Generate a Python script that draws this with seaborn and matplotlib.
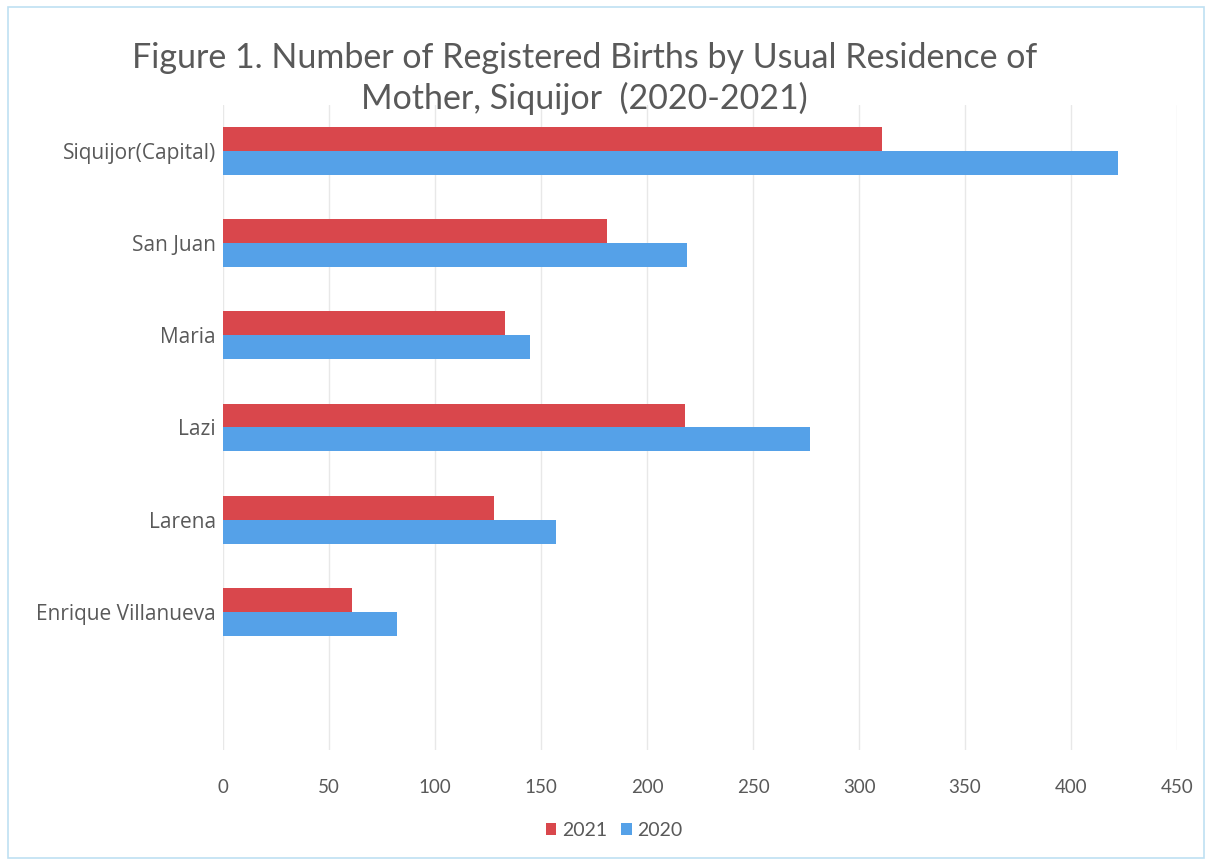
import pandas as pd
import matplotlib.pyplot as plt
import seaborn as sns
from matplotlib.patches import Rectangle

# values
municipalities = ['Siquijor(Capital)', 'San Juan', 'Maria', 'Lazi', 'Larena', 'Enrique Villanueva']
births_2021 = [311, 181, 133, 218, 128, 61]
births_2020 = [422, 219, 145, 277, 157, 82]
years = ['2021', '2020']
x_ticks = [0, 50, 100, 150, 200, 250, 300, 350, 400, 450]

df = pd.DataFrame({
    'Municipality': municipalities * 2,
    'Births': births_2021 + births_2020,
    'Year': ['2021'] * len(municipalities) + ['2020'] * len(municipalities),
})

sns.set_theme(style='white')
plt.rcParams['font.family'] = ['Lato', 'DejaVu Sans']
text_grey = '#595959'

fig = plt.figure(figsize=(12.08, 8.64), dpi=100)
ax = fig.add_axes([0.1846, 0.132, 0.7898, 0.7465])

sns.barplot(data=df, x='Births', y='Municipality', hue='Year', hue_order=years,
            order=municipalities, orient='h', width=0.52,
            palette={'2021': '#D9474C', '2020': '#55A1E8'},
            saturation=1, linewidth=0, ax=ax, legend=True)

# Excel leaves an empty slot under the last category
ax.set_ylim(6.5, -0.5)
ax.set_xlim(0, 450)
ax.set_xticks(x_ticks)
ax.set_xlabel('')
ax.set_ylabel('')
ax.grid(axis='x', color='#E8E8E8', linewidth=1)
ax.set_axisbelow(True)
for s in ax.spines.values():
    s.set_visible(False)
ax.tick_params(axis='x', length=0, pad=21, labelsize=13.5, labelcolor=text_grey)
ax.tick_params(axis='y', length=0, pad=5, labelsize=15, labelcolor=text_grey)
for lab in ax.get_yticklabels():
    lab.set_family(['Open Sans', 'DejaVu Sans'])

leg = ax.legend(loc='center', bbox_to_anchor=(0.41, -0.125), ncol=2, frameon=False,
                fontsize=14, handlelength=0.55, handleheight=0.6, handletextpad=0.3,
                columnspacing=0.7)
for t in leg.get_texts():
    t.set_color(text_grey)

fig.text(0.484, 0.909, 'Figure 1. Number of Registered Births by Usual Residence of\nMother, Siquijor  (2020-2021)',
         ha='center', va='center', fontsize=24.5, color=text_grey, linespacing=1.3)

# thin chart-area border like the Excel frame
fig.patches.append(Rectangle((0.007, 0.007), 0.99, 0.985, transform=fig.transFigure,
                             fill=False, edgecolor='#BFE0F2', linewidth=1.2))

fig.savefig('out.png', dpi=100)
